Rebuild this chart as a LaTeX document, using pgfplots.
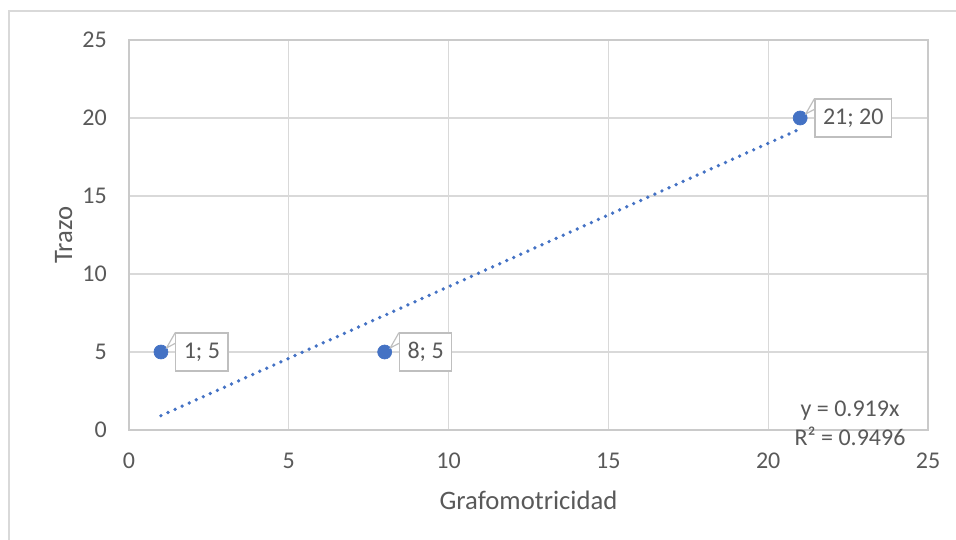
\documentclass[border=0pt]{standalone}
\usepackage{fontspec}
\setmainfont{Carlito}
\usepackage{pgfplots}
\usepackage{pgfplotstable}
\pgfplotsset{compat=1.18}
\usetikzlibrary{calc}
\definecolor{txtgray}{HTML}{595959}
\definecolor{gridgray}{HTML}{D9D9D9}
\definecolor{bordergray}{HTML}{CACACA}
\definecolor{lblgray}{HTML}{BFBFBF}
\definecolor{xlblue}{HTML}{4472C4}
\protected\def\sc{;}
\pgfplotstableread[col sep=comma]{
x,y,lab
1,5,1\sc{} 5
8,5,8\sc{} 5
21,20,21\sc{} 20
}\datatable
\begin{document}
\begin{tikzpicture}
\path[use as bounding box] (0,0) rectangle (717pt,404.25pt);
\draw[gridgray,line width=1.1pt] (6.75pt,-2pt) -- (6.75pt,395.9pt) -- (720pt,395.9pt);
\begin{axis}[
  at={(96.75pt,81.75pt)}, anchor=south west,
  scale only axis, width=599.25pt, height=292.5pt,
  xmin=0,xmax=25,ymin=0,ymax=25,
  xtick={0,5,10,15,20,25}, ytick={0,5,10,15,20,25},
  grid=major, major grid style={color=gridgray, line width=0.8pt},
  axis line style={color=bordergray, line width=1.1pt},
  tick style={draw=none},
  /pgf/number format/assume math mode=true,
  ticklabel style={font=\fontsize{18}{21}\selectfont, text=txtgray},
  xticklabel style={anchor=north, inner sep=0pt, yshift=-17.25pt},
  yticklabel style={anchor=east, inner sep=0pt, xshift=-16.5pt},
  xlabel={Grafomotricidad}, ylabel={Trazo},
  label style={font=\fontsize{20}{24}\selectfont, text=txtgray},
  xlabel style={at={(axis description cs:0.5,-0.2051)}, anchor=base},
  ylabel style={at={(axis description cs:-0.0713,0.5)}, anchor=base},
  clip=false,
]
% trendline y = 0.919x
\addplot[xlblue, line width=2.8pt, line cap=round, dash pattern=on 0pt off 5.8pt, forget plot]
  coordinates {(1,0.919) (21,19.299)};
% data
\addplot[only marks, mark=*, mark size=5.25pt,
  mark options={fill=xlblue, draw=xlblue, line width=0.5pt},
  point meta=explicit symbolic,
  nodes near coords,
  every node near coord/.style={anchor=west, xshift=10.7pt,
    draw=lblgray, fill=white, line width=0.9pt,
    inner xsep=6pt, inner ysep=0pt, minimum height=28.5pt,
    font=\fontsize{18}{21}\selectfont, text=txtgray,
    append after command={\pgfextra{%
      \begin{pgfinterruptpath}
      \fill[white] ($(\tikzlastnode.north west)+(0.6pt,-0.5pt)$) -- ($(\tikzlastnode.west)+(-6.5pt,3.1pt)$) -- ($(\tikzlastnode.north west)+(0.6pt,-8.25pt)$) -- cycle;
      \draw[lblgray,line width=0.9pt,line join=round] ($(\tikzlastnode.north west)+(0,-0.2pt)$) -- ($(\tikzlastnode.west)+(-6.5pt,3.1pt)$) -- ($(\tikzlastnode.north west)+(0,-8.25pt)$);
      \end{pgfinterruptpath}}}
  },
] table[x=x, y=y, meta=lab] {\datatable};
\node[anchor=base, font=\fontsize{18}{21}\selectfont, text=txtgray] at (axis description cs:0.9024,0.0342) {y = 0.919x};
\node[anchor=base, font=\fontsize{18}{21}\selectfont, text=txtgray] at (axis description cs:0.9024,-0.0385) {R² = 0.9496};
\end{axis}
\end{tikzpicture}
\end{document}
